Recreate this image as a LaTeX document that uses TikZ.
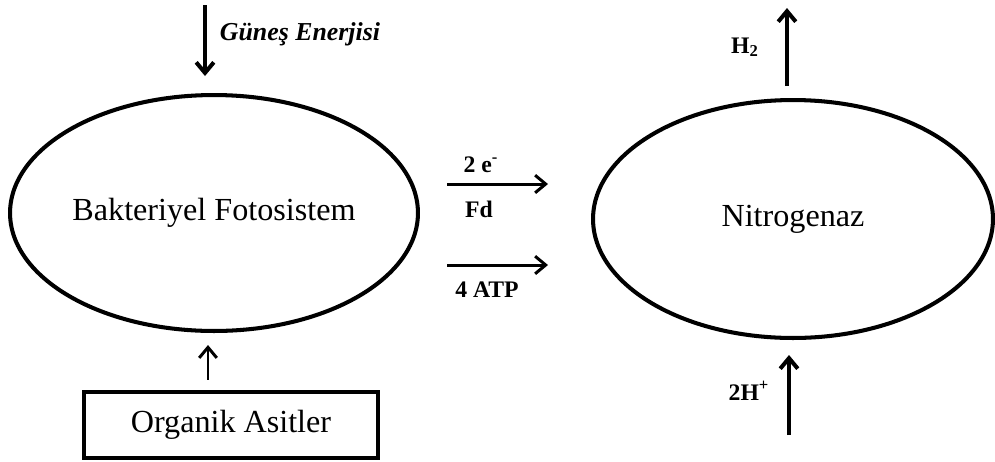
\documentclass[tikz,border=0pt]{standalone}
\usepackage{fontspec}
\setmainfont{Liberation Serif}
\usetikzlibrary{shapes.geometric}
\usetikzlibrary{arrows.meta}
\def\px{0.02cm}

\begin{document}
\begin{tikzpicture}[x=\px, y=-\px,
		proc/.style={ellipse, draw, line width=2.3pt, inner sep=0pt,
			font=\fontsize{18.3}{22}\selectfont},
		srcbox/.style={rectangle, draw, line width=2.8pt, inner sep=0pt,
			font=\fontsize{18.3}{22}\selectfont},
		flow/.style={-{Straight Barb[length=6pt,width=10pt]}, line width=1.7pt},
		bigflow/.style={flow, line width=2.3pt},
		lbl/.style={anchor=base, inner sep=0pt, font=\bfseries\fontsize{13.5}{16}\selectfont}
	]
	\useasboundingbox (0,0) rectangle (995,461);
	% the two systems
	\node[proc, minimum width=8.16cm, minimum height=4.72cm] (bfs) at (214,213) {Bakteriyel Fotosistem};
	\node[proc, minimum width=8.0cm, minimum height=4.76cm] (nit) at (793,219) {Nitrogenaz};
	\node[srcbox, minimum width=5.88cm, minimum height=1.32cm] (oa) at (231,425) {Organik Asitler};

	% free ends
	\coordinate (sun) at (205,5);
	\coordinate (oaup) at (208,0);
	\coordinate (h2) at (787,8);
	\coordinate (hp) at (789,435);
	\coordinate (e1) at (447,184);
	\coordinate (e2) at (548,184);
	\coordinate (a1) at (447,265);
	\coordinate (a2) at (548,265);

	% arrows
	\draw[bigflow, shorten >=0.34cm] (sun) -- (sun |- bfs.north);
	\draw[flow, shorten <=0.2cm, shorten >=0.24cm] (oa.north -| oaup) -- (bfs.south -| oaup);
	\draw[bigflow, shorten <=0.24cm] (nit.north -| h2) -- (h2);
	\draw[bigflow, shorten >=0.3cm] (hp) -- (hp |- nit.south);
	\draw[flow] (e1) -- (e2);
	\draw[flow] (a1) -- (a2);

	% labels
	\node[lbl, font=\bfseries\itshape\fontsize{14.7}{17}\selectfont] (sunlab) at (300,40) {Güneş Enerjisi};
	\node[lbl] (elab) at (481,172) {2 e\textsuperscript{-}};
	\node[lbl] (fdlab) at (479,217) {Fd};
	\node[lbl] (atplab) at (487,297) {4 ATP};
	\node[lbl] (h2lab) at (745,53) {H\textsubscript{2}};
	\node[lbl] (hplab) at (749,400) {2H\textsuperscript{+}};
\end{tikzpicture}
\end{document}
